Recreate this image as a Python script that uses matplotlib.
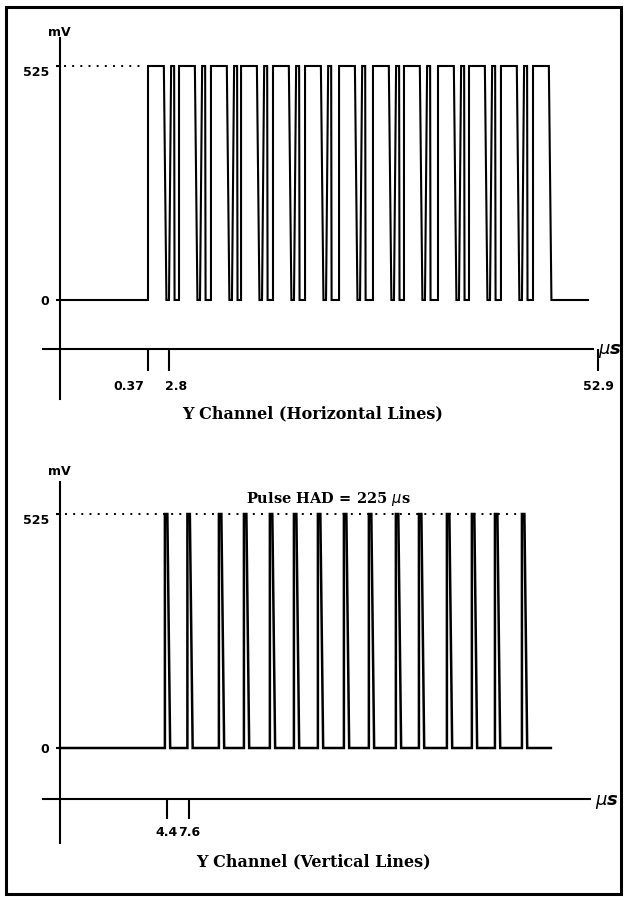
import matplotlib.pyplot as plt
from matplotlib.patches import Rectangle
from matplotlib.transforms import ScaledTranslation

# ---- data (time in microseconds, level in mV) ----
HIGH = 525
LOW = 0
y_ticks = [0, 525]
y_tick_labels = ['0', '525']

# Y channel, horizontal lines: rise times of the wide pulses
hor_wide_rise = [0.37, 3.99, 7.72, 11.23, 14.96, 18.70, 22.67,
                 26.63, 30.25, 34.22, 37.84, 41.57, 45.31]
hor_wide_high = 1.85      # time spent at 525 mV
hor_fall = 0.30           # fall time of the wide pulse
hor_narrow_delay = 2.45   # narrow pulse start after the wide rise
hor_narrow_rise = 0.25
hor_narrow_high = 0.35
hor_end = 51.73
hor_ticks = [0.37, 2.8, 52.9]
hor_tick_labels = ['0.37', '2.8', '52.9']

# Y channel, vertical lines: centres of the short pulses
vert_centres = [4.40, 7.60, 12.08, 15.64, 19.33, 22.75, 26.16, 29.86,
                33.41, 37.25, 40.53, 44.51, 48.06, 51.34, 55.18]
vert_shape = [-0.3, -0.3, 0.05, 0.45]
vert_end = 59.0
vert_ticks = [4.4, 7.6]
vert_tick_labels = ['4.4', '7.6']

# ---- layout (pixel anchors of the drawing) ----
W, H = 626, 901
MV_PER_PX = 525 / 234.0

top = dict(t_ref=0.37, px_ref=148, k=8.567, y0=300, fig_top=0, fig_bot=450.5,
           yaxis_px=60, yaxis_top=38, yaxis_bot=399, xaxis_py=348.5,
           xaxis_l=43, xaxis_r=593, tick_len=15.5, mv_py=32.5)
bot = dict(t_ref=4.4, px_ref=167, k=7.031, y0=748, fig_top=450.5, fig_bot=901,
           yaxis_px=60, yaxis_top=482, yaxis_bot=843, xaxis_py=799,
           xaxis_l=43, xaxis_r=590, tick_len=14.5, mv_py=472)


def t_of(px, p):
    return p['t_ref'] + (px - p['px_ref']) / p['k']


def mv_of(py, p):
    return (p['y0'] - py) * MV_PER_PX


fig = plt.figure(figsize=(W / 100, H / 100), dpi=100)


def make_axes(p, ticks, tick_labels):
    ax = fig.add_axes([0, 1 - p['fig_bot'] / H, 1, (p['fig_bot'] - p['fig_top']) / H])
    ax.set_xlim(t_of(0, p), t_of(W, p))
    ax.set_ylim(mv_of(p['fig_bot'], p), mv_of(p['fig_top'], p))
    ax.patch.set_alpha(0)
    for s in ['top', 'right']:
        ax.spines[s].set_visible(False)
    ax.spines['left'].set_position(('data', t_of(p['yaxis_px'], p)))
    ax.spines['left'].set_bounds(mv_of(p['yaxis_bot'], p), mv_of(p['yaxis_top'], p))
    ax.spines['bottom'].set_position(('data', mv_of(p['xaxis_py'], p)))
    ax.spines['bottom'].set_bounds(t_of(p['xaxis_l'], p), t_of(p['xaxis_r'], p))
    for s in ['left', 'bottom']:
        ax.spines[s].set_linewidth(1.5)

    ax.set_xticks(ticks, tick_labels)
    ax.set_yticks(y_ticks, y_tick_labels)
    ax.tick_params(axis='x', direction='out', length=p['tick_len'], width=1.5, pad=5,
                   labelsize=9)
    ax.tick_params(axis='y', direction='out', length=3, width=1.5, pad=5, labelsize=9)
    for lab in ax.get_xticklabels() + ax.get_yticklabels():
        lab.set_fontweight('bold')
    # 525 label sits a little below its level
    ylab = ax.get_yticklabels()[1]
    ylab.set_transform(ylab.get_transform() + ScaledTranslation(0, -5 / 100, fig.dpi_scale_trans))

    ax.text(t_of(p['yaxis_px'] - 1, p), mv_of(p['mv_py'], p), 'mV', ha='center', va='center',
            fontsize=9, fontweight='bold')
    ax.text(t_of(p['xaxis_r'] + 5, p), mv_of(p['xaxis_py'] + 3, p), r'$\mu$s', ha='left',
            va='center', fontsize=13, fontweight='bold', fontstyle='italic')
    return ax


# ---- top: horizontal lines ----
ax1 = make_axes(top, hor_ticks, hor_tick_labels)
t = [t_of(top['yaxis_px'], top)]
v = [LOW]
for i, r in enumerate(hor_wide_rise):
    t += [r, r, r + hor_wide_high, r + hor_wide_high + hor_fall]
    v += [LOW, HIGH, HIGH, LOW]
    if i < len(hor_wide_rise) - 1:
        n = r + hor_narrow_delay
        t += [n, n + hor_narrow_rise, n + hor_narrow_rise + hor_narrow_high,
              n + hor_narrow_rise + hor_narrow_high + 0.05]
        v += [LOW, HIGH, HIGH, LOW]
t.append(hor_end)
v.append(LOW)
ax1.plot(t, v, color='black', lw=1.5, solid_joinstyle='miter')
ax1.plot([t_of(top['yaxis_px'] + 4, top), hor_wide_rise[0] - 0.6], [HIGH, HIGH],
         color='black', lw=1.4, ls=(0, (1, 3.2)))
labs = ax1.get_xticklabels()
labs[0].set_ha('right')
labs[0].set_transform(labs[0].get_transform() + ScaledTranslation(-4 / 100, -3 / 100, fig.dpi_scale_trans))
labs[1].set_ha('left')
labs[1].set_transform(labs[1].get_transform() + ScaledTranslation(-4 / 100, -3 / 100, fig.dpi_scale_trans))
labs[2].set_transform(labs[2].get_transform() + ScaledTranslation(0, -3 / 100, fig.dpi_scale_trans))

# ---- bottom: vertical lines ----
ax2 = make_axes(bot, vert_ticks, vert_tick_labels)
t = [t_of(bot['yaxis_px'], bot)]
v = [LOW]
for c in vert_centres:
    t += [c + d for d in vert_shape]
    v += [LOW, HIGH, HIGH, LOW]
t.append(vert_end)
v.append(LOW)
ax2.plot(t, v, color='black', lw=1.8, solid_joinstyle='miter')
ax2.plot([t_of(bot['yaxis_px'] + 5, bot), vert_centres[-1] + 0.2], [HIGH, HIGH],
         color='black', lw=1.4, ls=(0, (1, 3.2)))
ax2.text(27.3, mv_of(499, bot), r'Pulse HAD = 225 $\mu$s', ha='center', va='center',
         fontsize=10.5, fontweight='bold', family='DejaVu Serif')

# ---- titles and frame ----
fig.text(0.5, 1 - 414 / H, 'Y Channel (Horizontal Lines)', ha='center', va='center',
         fontsize=11.5, fontweight='bold', family='DejaVu Serif')
fig.text(0.5, 1 - 862 / H, 'Y Channel (Vertical Lines)', ha='center', va='center',
         fontsize=11.5, fontweight='bold', family='DejaVu Serif')
fig.patches.append(Rectangle((5.5 / W, 1 - 894 / H), 615.5 / W, 887.5 / H,
                             transform=fig.transFigure, fill=False, lw=2.2,
                             edgecolor='black'))

fig.savefig('out.png', dpi=100)
